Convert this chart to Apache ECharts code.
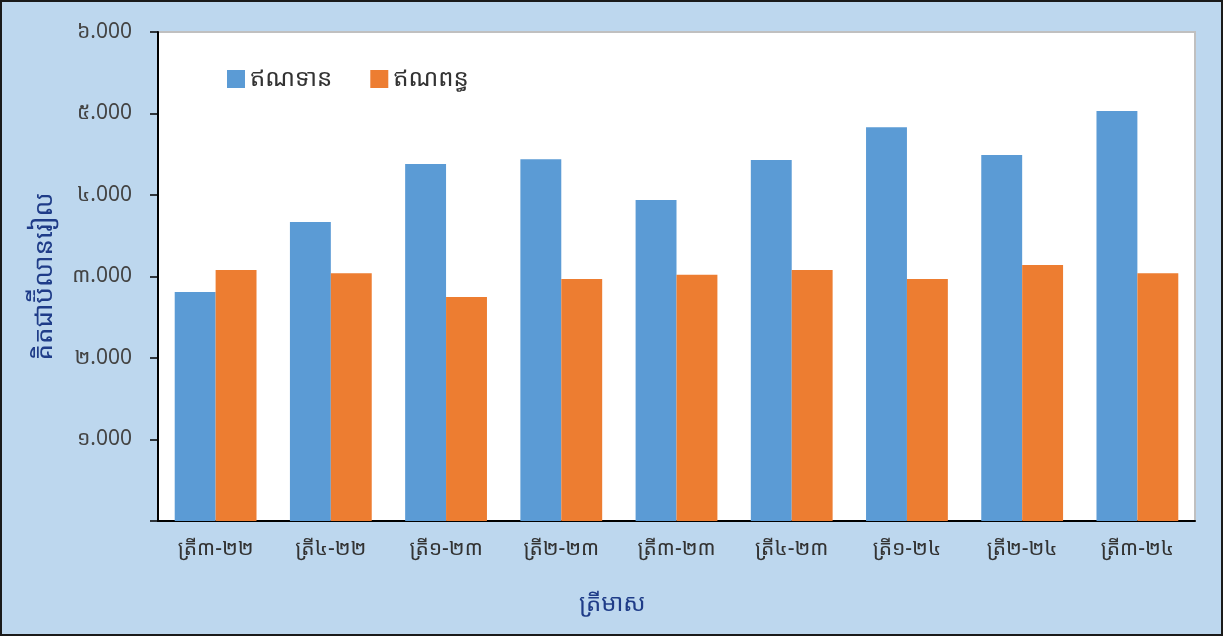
<!DOCTYPE html>
<html>
<head>
<meta charset="utf-8">
<script src="https://cdn.jsdelivr.net/npm/echarts@6/dist/echarts.min.js"></script>
<style>
  html, body { margin: 0; padding: 0; }
  #main { width: 1223px; height: 636px; box-sizing: border-box; border: 2px solid #1a1a1a; background: #BDD7EE; }
</style>
</head>
<body>
<div id="main"></div>
<script>
  // ត្រីមាស (quarters)
  var categories = ['ត្រី៣-២២', 'ត្រី៤-២២', 'ត្រី១-២៣', 'ត្រី២-២៣', 'ត្រី៣-២៣', 'ត្រី៤-២៣', 'ត្រី១-២៤', 'ត្រី២-២៤', 'ត្រី៣-២៤']
  // ឥណទាន (credit)
  var credit = [2810, 3670, 4380, 4440, 3940, 4430, 4830, 4490, 5030]
  // ឥណពន្ធ (debit)
  var debit = [3080, 3040, 2750, 2970, 3020, 3080, 2970, 3140, 3040]
  var yTickLabels = ['0', '១.000', '២.000', '៣.000', '៤.000', '៥.000', '៦.000']

  var font = '"Noto Sans Khmer", "Khmer OS", "DejaVu Sans", sans-serif'
  var myChart = echarts.init(document.getElementById('main'))

  var option = {
    animation: false,
    textStyle: { fontFamily: font },
    grid: {
      left: 156,
      right: 26,
      top: 30,
      bottom: 113,
      show: true,
      backgroundColor: '#ffffff',
      borderColor: '#c0c0c0',
      borderWidth: 2
    },
    legend: {
      left: 220,
      top: 60,
      icon: 'rect',
      itemWidth: 18,
      itemHeight: 18,
      itemGap: 38,
      textStyle: { fontSize: 24, color: '#333', fontFamily: font },
      data: ['ឥណទាន', 'ឥណពន្ធ']
    },
    title: {
      text: 'ត្រីមាស',
      left: 572,
      top: 585,
      textStyle: { fontSize: 24, fontWeight: 'normal', color: '#1F3C88', fontFamily: font }
    },
    xAxis: {
      type: 'category',
      data: categories,
      axisLine: { lineStyle: { color: '#000', width: 2 } },
      axisTick: { length: 7, lineStyle: { color: '#000', width: 2 } },
      axisLabel: { fontSize: 21, color: '#333', margin: 18, fontFamily: font }
    },
    yAxis: {
      type: 'value',
      min: 0,
      max: 6000,
      interval: 1000,
      name: 'គិតជាប៊ីលានរៀល',
      nameLocation: 'middle',
      nameGap: 100,
      nameTextStyle: { fontSize: 26, color: '#1F3C88', fontFamily: font },
      splitLine: { show: false },
      axisLine: { show: true, lineStyle: { color: '#000', width: 2 } },
      axisTick: { show: true, length: 8, lineStyle: { color: '#000', width: 1.5 } },
      axisLabel: {
        fontSize: 21,
        color: '#444',
        margin: 26,
        fontFamily: font,
        formatter: function (v) {
          return v === 0 ? '' : yTickLabels[v / 1000]
        }
      }
    },
    series: [
      {
        name: 'ឥណទាន',
        type: 'bar',
        data: credit,
        barGap: '0%',
        barCategoryGap: '29%',
        itemStyle: { color: '#5B9BD5' }
      },
      {
        name: 'ឥណពន្ធ',
        type: 'bar',
        data: debit,
        itemStyle: { color: '#ED7D31' }
      }
    ]
  }

  myChart.setOption(option)
</script>
</body>
</html>
